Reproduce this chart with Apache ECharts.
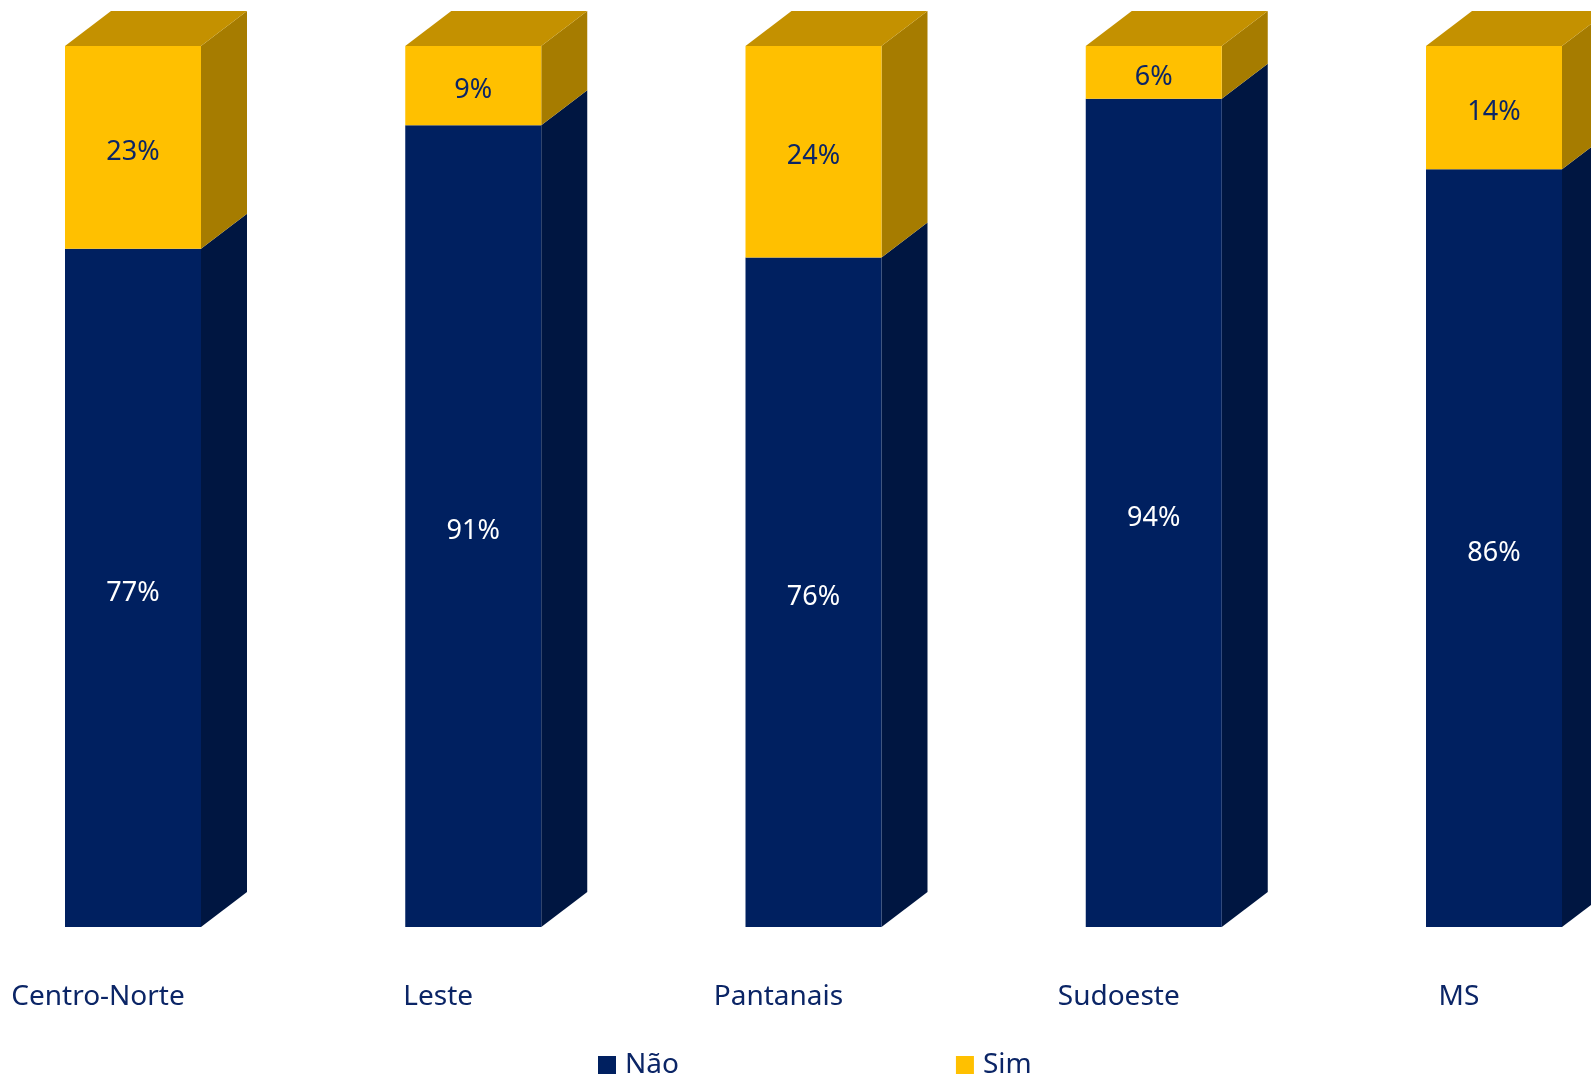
<!DOCTYPE html>
<html>
<head>
<meta charset="utf-8">
<script src="https://cdn.jsdelivr.net/npm/echarts@6/dist/echarts.min.js"></script>
<style>
html,body{margin:0;padding:0;background:#fff;}
#c{width:1591px;height:1077px;}
</style>
</head>
<body>
<div id="c"></div>
<script>
const categories = ['Centro-Norte', 'Leste', 'Pantanais', 'Sudoeste', 'MS'];
const naoValues = [77, 91, 76, 94, 86];
const simValues = [23, 9, 24, 6, 14];
const seriesNames = ['Não', 'Sim'];

const BAR_W = 136, DX = 46, DY = 35, LABEL_DY = 5;
const palette = [
  {front: '#002060', side: '#001641', top: '#00194f', label: '#ffffff'},
  {front: '#FFC000', side: '#A67C00', top: '#C49100', label: '#0B2566'}
];
const FONT = '"Noto Sans", "Open Sans", sans-serif';

function buildData(values, bases) {
  return values.map((v, i) => [i, v, bases[i]]);
}
const zeros = categories.map(() => 0);

function makeRender(idx, isTop) {
  const c = palette[idx];
  return function (params, api) {
    const i = api.value(0), v = api.value(1), b = api.value(2);
    const p0 = api.coord([i, b]);
    const p1 = api.coord([i, b + v]);
    const L = p0[0] - BAR_W / 2, R = p0[0] + BAR_W / 2;
    const yb = p0[1], yt = p1[1];
    const children = [
      {type: 'polygon', shape: {points: [[R, yb], [R + DX, yb - DY], [R + DX, yt - DY], [R, yt]]},
        style: {fill: c.side}},
      {type: 'rect', shape: {x: L, y: yt, width: BAR_W, height: yb - yt}, style: {fill: c.front}},
      {type: 'text', style: {text: v + '%', x: p0[0], y: (yb + yt) / 2 + LABEL_DY, align: 'center', verticalAlign: 'middle',
        fill: c.label, font: '27px ' + FONT}}
    ];
    if (isTop) {
      children.push({type: 'polygon', shape: {points: [[L, yt], [L + DX, yt - DY], [R + DX, yt - DY], [R, yt]]},
        style: {fill: c.top}});
    }
    return {type: 'group', children: children};
  };
}

const chart = echarts.init(document.getElementById('c'));
chart.setOption({
  animation: false,
  backgroundColor: '#ffffff',
  grid: {left: 133, right: 97, top: 46, bottom: 150},
  xAxis: {
    type: 'category', data: categories, boundaryGap: false,
    axisLine: {show: false}, axisTick: {show: false}, splitLine: {show: false},
    axisLabel: {margin: 56, color: '#0B2566', fontSize: 28, fontFamily: FONT, padding: [0, 70, 0, 0]}
  },
  yAxis: {type: 'value', min: 0, max: 100, show: false},
  legend: {
    left: 598, top: 1051, padding: 0, itemWidth: 18, itemHeight: 18, itemGap: 277,
    icon: 'rect',
    textStyle: {color: '#0B2566', fontSize: 28, fontFamily: FONT, padding: [0, 0, 0, 4]},
    data: seriesNames.map((n, k) => ({name: n, itemStyle: {color: palette[k].front}}))
  },
  series: [
    {type: 'custom', name: seriesNames[0], renderItem: makeRender(0, false),
      encode: {x: 0, y: 1}, data: buildData(naoValues, zeros), itemStyle: {color: palette[0].front}},
    {type: 'custom', name: seriesNames[1], renderItem: makeRender(1, true),
      encode: {x: 0, y: 1}, data: buildData(simValues, naoValues), itemStyle: {color: palette[1].front}}
  ]
});
</script>
</body>
</html>
